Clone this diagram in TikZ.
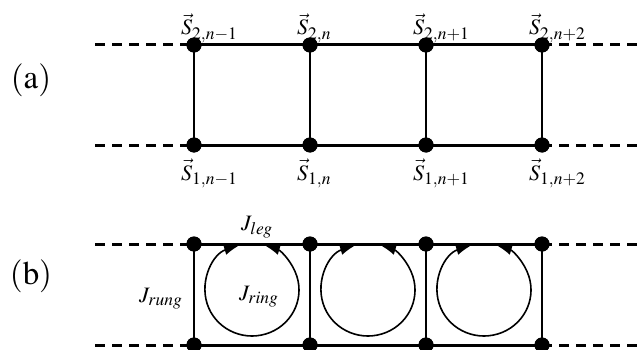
\documentclass[tikz,border=0pt]{standalone}
\usepackage{mathptmx}
\DeclareMathSizes{22}{22}{17.5}{13}
\DeclareMathSizes{33}{33}{24}{18}
\usetikzlibrary{arrows.meta}
\tikzset{
  site/.style={circle,fill=black,inner sep=0pt,minimum size=15pt},
  legline/.style={line width=3pt},
  rungline/.style={line width=2.8pt},
  dashline/.style={line width=3pt,dash pattern=on 10pt off 7pt},
  ring/.style={line width=1.6pt,{Latex[length=14pt,width=10pt]}-{Latex[length=14pt,width=10pt]}},
  slabel/.style={anchor=base west,inner sep=0pt,font=\fontsize{22}{22}\selectfont},
  jlabel/.style={anchor=base west,inner sep=0pt,font=\fontsize{22}{22}\selectfont},
  panel/.style={inner sep=0pt,font=\fontsize{33}{33}\selectfont}
}
\begin{document}
\begin{tikzpicture}[x=1pt,y=-1pt]
\useasboundingbox (0,0) rectangle (644,350);
% ---------- (a)
\node[panel] (pa) at (31,80) {$(\mathrm{a})$};
\foreach \i/\x in {1/194,2/310,3/426,4/542}{
  \node[site] (aT\i) at (\x,45) {};
  \node[site] (aB\i) at (\x,145) {};
}
\coordinate (aTL) at (95,45);
\coordinate (aTR) at (644,45);
\coordinate (aBL) at (95,145);
\coordinate (aBR) at (644,145);
\draw[dashline] (aTL) -- (aT1.center);
\draw[dashline] (aT4.center) -- (aTR);
\draw[dashline] (aBL) -- (aB1.center);
\draw[dashline] (aB4.center) -- (aBR);
\draw[legline] (aT1.center) -- (aT4.center);
\draw[legline] (aB1.center) -- (aB4.center);
\foreach \i in {1,2,3,4}{\draw[rungline] (aT\i.center) -- (aB\i.center);}
\node[slabel] (sT1) at (181,35) {$\vec{S}_{2,n-1}$};
\node[slabel] (sT2) at (297,35) {$\vec{S}_{2,n}$};
\node[slabel] (sT3) at (413,35) {$\vec{S}_{2,n+1}$};
\node[slabel] (sT4) at (529,35) {$\vec{S}_{2,n+2}$};
\node[slabel] (sB1) at (181,180) {$\vec{S}_{1,n-1}$};
\node[slabel] (sB2) at (297,180) {$\vec{S}_{1,n}$};
\node[slabel] (sB3) at (413,180) {$\vec{S}_{1,n+1}$};
\node[slabel] (sB4) at (529,180) {$\vec{S}_{1,n+2}$};
\foreach \i/\x in {1/194,2/310,3/426,4/542}{
  \node[site] at (\x,45) {};
  \node[site] at (\x,145) {};
}
% ---------- (b)
\node[panel] (pb) at (31,276) {$(\mathrm{b})$};
\foreach \i/\x in {1/194,2/310,3/426,4/542}{
  \node[site] (bT\i) at (\x,244) {};
  \node[site] (bB\i) at (\x,345) {};
}
\coordinate (bTL) at (95,244);
\coordinate (bTR) at (644,244);
\coordinate (bBL) at (95,345);
\coordinate (bBR) at (644,345);
\draw[dashline] (bTL) -- (bT1.center);
\draw[dashline] (bT4.center) -- (bTR);
\draw[dashline] (bBL) -- (bB1.center);
\draw[dashline] (bB4.center) -- (bBR);
\draw[legline] (bT1.center) -- (bT4.center);
\draw[legline] (bB1.center) -- (bB4.center);
\foreach \i in {1,2,3,4}{\draw[rungline] (bT\i.center) -- (bB\i.center);}
\foreach \cx in {252,368,484}{
  \draw[ring] ([shift={(-107:47 and 46)}]\cx,290) arc[start angle=-107,end angle=-433,x radius=47,y radius=46];
}
\foreach \i/\x in {1/194,2/310,3/426,4/542}{
  \node[site] at (\x,244) {};
  \node[site] at (\x,345) {};
}
\node[jlabel] (jleg) at (241,230) {$J_{leg}$};
\node[jlabel] (jrung) at (139,302) {$J_{rung}$};
\node[jlabel] (jring) at (239,300) {$J_{ring}$};
\end{tikzpicture}
\end{document}
